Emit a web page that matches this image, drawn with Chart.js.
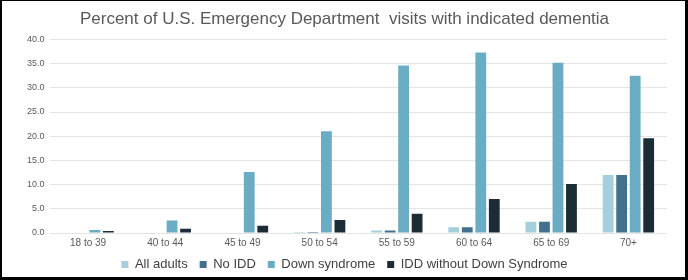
<!DOCTYPE html>
<html>
<head>
<meta charset="utf-8">
<script src="https://cdn.jsdelivr.net/npm/chart.js@4"></script>
<style>
  html, body { margin: 0; padding: 0; background: #000; }
  #frame { position: absolute; left: 2px; top: 1px; width: 683px; height: 276px; background: #fff; }
</style>
</head>
<body>
<div id="frame"><canvas id="myChart" width="683" height="276"></canvas></div>
<script>
// age groups and the four series (percent of ED visits)
const ageGroups = ['18 to 39', '40 to 44', '45 to 49', '50 to 54', '55 to 59', '60 to 64', '65 to 69', '70+'];
const allAdults = [0.0, 0.0, 0.1, 0.2, 0.5, 1.2, 2.3, 12.0];
const noIdd = [0.0, 0.0, 0.1, 0.2, 0.5, 1.2, 2.3, 12.0];
const downSyndrome = [0.6, 2.6, 12.6, 21.0, 34.6, 37.3, 35.2, 32.5];
const iddWithoutDs = [0.4, 0.9, 1.5, 2.7, 4.0, 7.0, 10.1, 19.6];

// make the legend box shorter so the plot gets more room, then pull its text up
const tightLegend = {
  id: 'tightLegend',
  beforeInit(chart) {
    const origFit = chart.legend.fit;
    chart.legend.fit = function() {
      origFit.bind(chart.legend)();
      this.height -= 11;
    };
  },
  afterLayout(chart) {
    chart.legend.top -= 7;
    chart.legend.bottom = chart.height;
  }
};

document.addEventListener("DOMContentLoaded", function() {
  const ctx = document.getElementById('myChart').getContext('2d');
  const barChart = new Chart(ctx, {
    type: 'bar',
    data: {
      labels: ageGroups,
      datasets: [
        { label: 'All adults', data: allAdults, backgroundColor: '#a5cfdc' },
        { label: 'No IDD', data: noIdd, backgroundColor: '#41718d' },
        { label: 'Down syndrome', data: downSyndrome, backgroundColor: '#6aacc3' },
        { label: 'IDD without Down Syndrome', data: iddWithoutDs, backgroundColor: '#1c2c37' }
      ]
    },
    plugins: [tightLegend],
    options: {
      responsive: false,
      animation: false,
      datasets: {
        bar: { barPercentage: 0.8, categoryPercentage: 0.7 }
      },
      layout: { padding: { left: 20, right: 18, top: 0, bottom: 0 } },
      plugins: {
        title: {
          display: true,
          text: 'Percent of U.S. Emergency Department  visits with indicated dementia',
          color: '#595959',
          font: { family: 'Liberation Sans', size: 17, weight: 'normal' },
          padding: { top: 8, bottom: 10 }
        },
        legend: {
          position: 'bottom',
          labels: {
            color: '#404040',
            font: { family: 'Liberation Sans', size: 13 },
            boxWidth: 7,
            boxHeight: 7,
            padding: 12
          }
        },
        tooltip: { enabled: false }
      },
      scales: {
        x: {
          grid: { display: false, drawTicks: false },
          border: { display: false },
          ticks: { color: '#595959', font: { family: 'Liberation Sans', size: 10 }, padding: 4 }
        },
        y: {
          min: 0,
          max: 40,
          ticks: {
            stepSize: 5,
            color: '#595959',
            font: { family: 'Liberation Sans', size: 9 },
            padding: 5,
            callback: function(value) { return value.toFixed(1); }
          },
          grid: { color: '#e4e4e4', drawTicks: false },
          border: { display: false }
        }
      }
    }
  });
});
</script>
</body>
</html>
